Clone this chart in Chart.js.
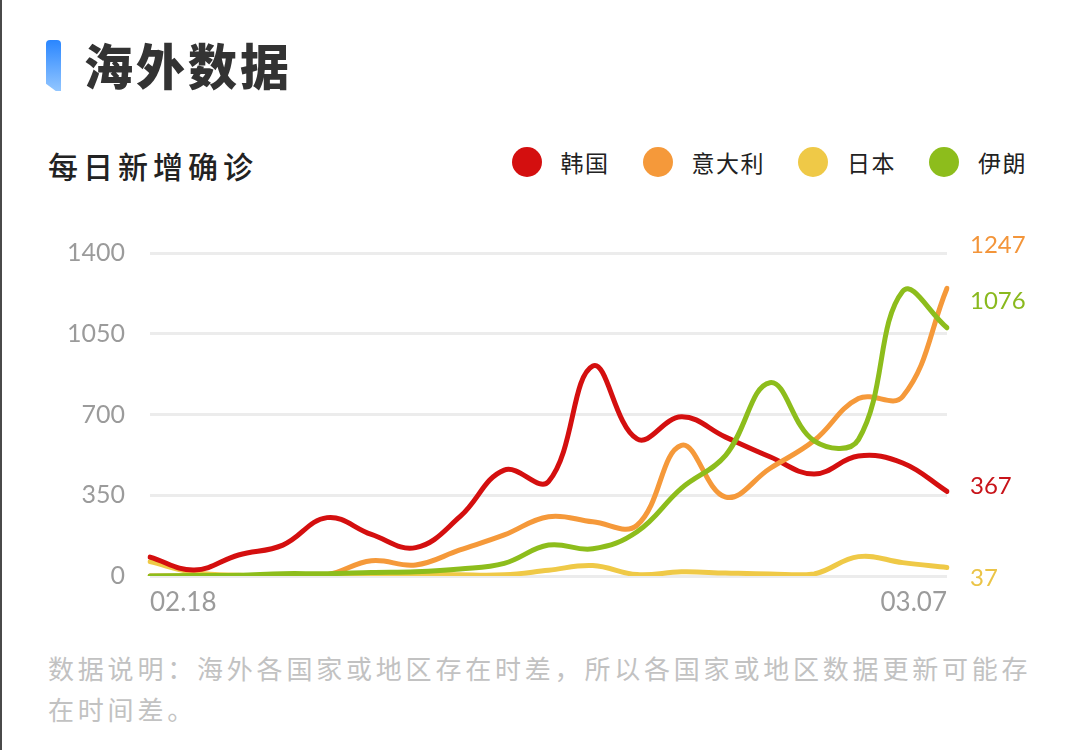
<!DOCTYPE html>
<html>
<head>
<meta charset="utf-8">
<script src="https://cdn.jsdelivr.net/npm/chart.js@4.4.1/dist/chart.umd.min.js"></script>
<style>
html,body{margin:0;padding:0;background:#fff;}
body{width:1080px;height:750px;position:relative;overflow:hidden;font-family:"Noto Sans CJK SC",sans-serif;}
#edge{position:absolute;left:0;top:0;width:2px;height:750px;background:#4a4a4a;}
#bar{position:absolute;left:46px;top:40px;width:15px;height:51px;border-radius:4px 4px 0 0;background:linear-gradient(#2a86ff,#92c6ff);clip-path:polygon(0 0,100% 0,100% 100%,65% 100%,0 86%);}
#title{position:absolute;left:84px;top:31px;font-size:49px;font-weight:900;color:#333;letter-spacing:3px;line-height:66px;white-space:nowrap;}
#sub{position:absolute;left:48px;top:144px;font-size:30px;font-weight:500;color:#222;letter-spacing:5px;line-height:42px;white-space:nowrap;}
#legend{position:absolute;right:53px;top:145px;height:34px;display:flex;align-items:center;gap:33px;}
.item{display:flex;align-items:center;gap:19px;}
.dot{width:30px;height:30px;border-radius:50%;}
.lbl{font-size:23px;color:#222;letter-spacing:1.5px;line-height:30px;white-space:nowrap;}
#note{position:absolute;left:48px;top:647px;font-size:26px;color:#c2c2c2;letter-spacing:3.8px;line-height:41px;white-space:nowrap;}
canvas{position:absolute;left:0;top:0;}
</style>
</head>
<body>
<div id="edge"></div>
<div id="bar"></div>
<div id="title">海外数据</div>
<div id="sub">每日新增确诊</div>
<div id="legend"></div>
<div id="note">数据说明：海外各国家或地区存在时差，所以各国家或地区数据更新可能存<br>在时间差。</div>
<canvas id="c" width="1080" height="750"></canvas>
<script>
// ---- data ----
const categories = ['02.18','02.19','02.20','02.21','02.22','02.23','02.24','02.25','02.26','02.27','02.28','02.29','03.01','03.02','03.03','03.04','03.05','03.06','03.07'];
const seriesNames = ['韩国','意大利','日本','伊朗'];
const korea = [82, 26, 91, 134, 253, 180, 123, 257, 459, 409, 910, 594, 690, 602, 517, 442, 520, 490, 367];
const italy = [0, 0, 0, 0, 5, 66, 48, 113, 178, 257, 235, 220, 566, 342, 466, 587, 769, 778, 1247];
const japan = [62, 15, 3, 5, 5, 10, 10, 5, 5, 25, 45, 6, 18, 13, 9, 9, 84, 58, 37];
const iran = [0, 2, 3, 10, 10, 15, 18, 30, 55, 134, 118, 192, 380, 523, 838, 586, 591, 1234, 1076];
const yTicks = [0, 350, 700, 1050, 1400];

// ---- styles ----
const lineColors = ['#d40f0f', '#f5993a', '#efc947', '#8dbd1c'];
const labelColors = ['#c8141a', '#f3953a', '#ebc447', '#8ab91e'];
const drawOrder = [2, 1, 3, 0];
const endLabelShift = [-5, -43, 11, -26];

// legend (HTML) built from names/colors
const legend = document.getElementById('legend');
seriesNames.forEach((n, i) => {
  const it = document.createElement('div'); it.className = 'item';
  const d = document.createElement('div'); d.className = 'dot'; d.style.background = lineColors[i];
  const t = document.createElement('div'); t.className = 'lbl'; t.textContent = n;
  it.appendChild(d); it.appendChild(t); legend.appendChild(it);
});

const seriesData = [korea, italy, japan, iran];

const endLabels = {
  id: 'endLabels',
  afterDatasetsDraw(chart) {
    const ctx = chart.ctx;
    const ys = chart.scales.y;
    const x = chart.chartArea.right + 23;
    ctx.save();
    ctx.font = '400 24px Lato, "Noto Sans", sans-serif';
    ctx.textAlign = 'left';
    ctx.textBaseline = 'middle';
    seriesData.forEach((arr, i) => {
      const v = arr[arr.length - 1];
      const y = ys.getPixelForValue(v) + endLabelShift[i];
      ctx.fillStyle = labelColors[i];
      ctx.fillText(String(v), x, y);
    });
    ctx.restore();
  }
};

new Chart(document.getElementById('c'), {
  type: 'line',
  data: {
    labels: categories,
    datasets: seriesData.map((arr, i) => ({
      label: seriesNames[i],
      data: arr,
      borderColor: lineColors[i],
      backgroundColor: lineColors[i],
      borderWidth: 5,
      borderCapStyle: 'round',
      borderJoinStyle: 'round',
      tension: 0.4,
      pointRadius: 0,
      pointHoverRadius: 0,
      fill: false,
      order: drawOrder[i]
    }))
  },
  options: {
    responsive: false,
    animation: false,
    devicePixelRatio: 1,
    layout: { padding: { left: 0, top: 253, right: 133, bottom: 124 } },
    plugins: { legend: { display: false }, tooltip: { enabled: false } },
    scales: {
      x: {
        grid: { display: false, drawTicks: false },
        border: { display: false },
        afterFit(axis) { axis.height = 50; },
        ticks: {
          autoSkip: false, maxRotation: 0, minRotation: 0,
          align: 'inner', padding: 11,
          color: '#9b9b9b',
          font: { family: 'Lato, "Noto Sans", sans-serif', size: 26 },
          callback(v, idx) { return (idx === 0 || idx === categories.length - 1) ? categories[idx] : ''; }
        }
      },
      y: {
        min: 0, max: 1400,
        afterFit(axis) { axis.width = 150; },
        afterBuildTicks(axis) { axis.ticks = yTicks.map(v => ({ value: v })); },
        grid: { color: '#ececec', lineWidth: 3, drawTicks: false },
        border: { display: false },
        ticks: {
          padding: 25,
          color: '#9b9b9b',
          font: { family: 'Lato, "Noto Sans", sans-serif', size: 25 },
          callback(v) { return String(v); }
        }
      }
    }
  },
  plugins: [endLabels]
});
</script>
</body>
</html>
